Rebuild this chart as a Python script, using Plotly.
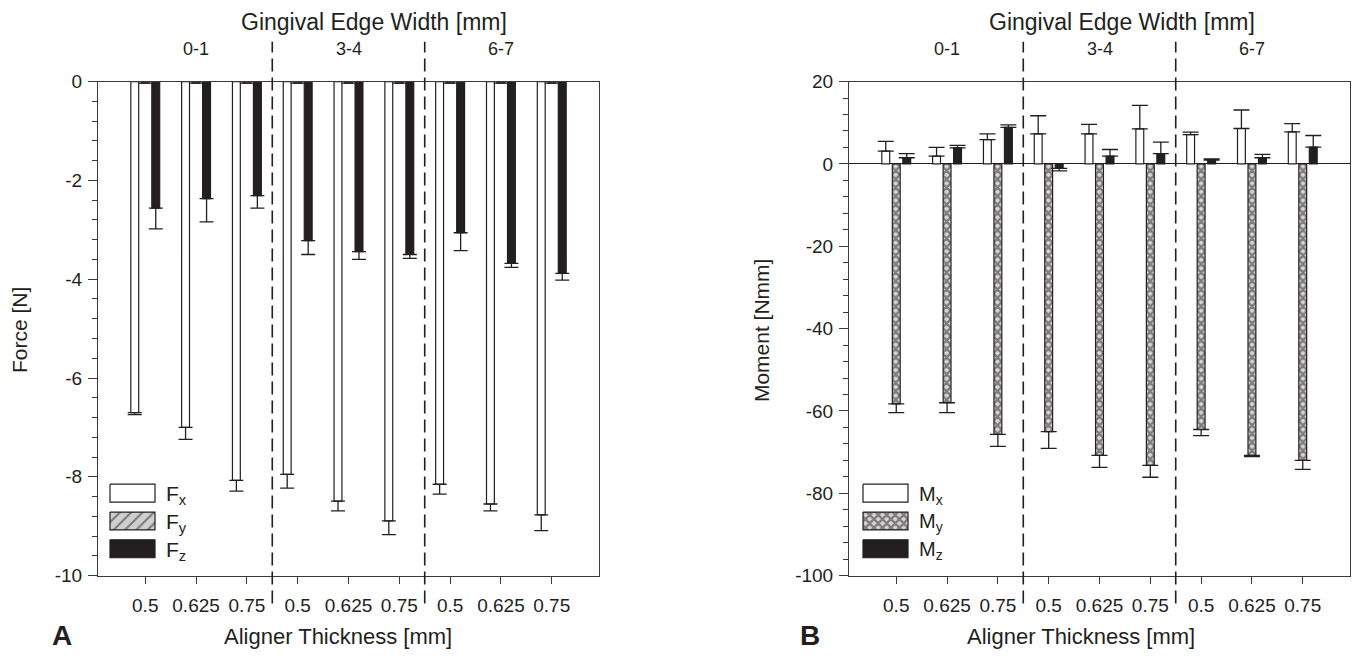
import plotly.graph_objects as go

# bar groups: aligner thickness [mm], three per gingival edge width [mm]
thickness = ["0.5", "0.625", "0.75", "0.5", "0.625", "0.75", "0.5", "0.625", "0.75"]
edge_width = ["0-1", "3-4", "6-7"]

# panel A - forces [N] (mean, sd)
fx = [-6.70, -7.00, -8.07, -7.95, -8.49, -8.89, -8.15, -8.55, -8.77]
fx_sd = [0.04, 0.24, 0.22, 0.28, 0.20, 0.28, 0.20, 0.14, 0.32]
fy = [-0.03, -0.03, -0.03, -0.03, -0.03, -0.03, -0.03, -0.03, -0.03]
fy_sd = [0, 0, 0, 0, 0, 0, 0, 0, 0]
fz = [-2.56, -2.37, -2.31, -3.22, -3.44, -3.50, -3.06, -3.68, -3.88]
fz_sd = [0.42, 0.47, 0.25, 0.28, 0.16, 0.08, 0.36, 0.08, 0.14]

# panel B - moments [Nmm] (mean, sd)
mx = [3.1, 1.9, 5.9, 7.3, 7.3, 8.5, 7.1, 8.6, 7.8]
mx_sd = [2.4, 2.1, 1.4, 4.4, 2.3, 5.7, 0.6, 4.5, 2.0]
my = [-58.3, -58.0, -65.7, -65.0, -70.8, -73.2, -64.5, -70.8, -72.0]
my_sd = [2.1, 2.4, 2.9, 4.1, 2.9, 2.9, 1.5, 0.3, 2.2]
mz = [1.5, 3.9, 8.9, -1.1, 1.9, 2.5, 0.9, 1.5, 4.1]
mz_sd = [1.0, 0.6, 0.6, 0.6, 1.6, 2.8, 0.3, 0.8, 2.8]

force_ticks = [-10, -8, -6, -4, -2, 0]
moment_ticks = [-100, -80, -60, -40, -20, 0, 20]

W, H = 1353, 662
INK = "#231f20"
AXC = "#3a3a3a"
FONT = "Liberation Sans, Arial, Helvetica, sans-serif"


def yc(y):
    # the page capture squeezes the figure a little vertically; undo that
    return (y - 8) / 0.974


def px(x):
    return x / W


def py(y):
    return 1 - yc(y) / H


def err(vals, sd, width):
    # one-sided error bars, pointing away from zero
    up = [s if v >= 0 else 0 for v, s in zip(vals, sd)]
    down = [s if v < 0 else 0 for v, s in zip(vals, sd)]
    return dict(type="data", symmetric=False, array=up, arrayminus=down,
                color=INK, thickness=1.3, width=width)


xpos = list(range(len(thickness)))

white = dict(color="white", line=dict(color=INK, width=1.2))
hatch = dict(color="#cfcfcf", line=dict(color=INK, width=1.2),
             pattern=dict(shape="/", fgcolor=INK, bgcolor="#cfcfcf", size=8, solidity=0.25))
cross = dict(color="#d8d8d8", line=dict(color=INK, width=1.2),
             pattern=dict(shape="x", fgcolor=INK, bgcolor="#d8d8d8", size=6, solidity=0.65))
black = dict(color=INK, line=dict(color=INK, width=1.2))

fig = go.Figure()

for vals, sd, mk in [(fx, fx_sd, white), (fy, fy_sd, hatch), (fz, fz_sd, black)]:
    fig.add_trace(go.Bar(x=xpos, y=vals, marker=mk, error_y=err(vals, sd, 7),
                         xaxis="x", yaxis="y", showlegend=False))

for vals, sd, mk in [(mx, mx_sd, white), (my, my_sd, cross), (mz, mz_sd, black)]:
    fig.add_trace(go.Bar(x=xpos, y=vals, marker=mk, error_y=err(vals, sd, 8),
                         xaxis="x2", yaxis="y2", showlegend=False))


# hand-drawn legends (wide boxes like the original), on a pixel overlay axis
def legend_box(x0, y0, mk):
    fp = None
    if "pattern" in mk:
        p = mk["pattern"]
        fp = dict(shape=p["shape"], fgcolor=p["fgcolor"], bgcolor=p["bgcolor"],
                  size=p["size"], solidity=p["solidity"])
    y1 = yc(y0)
    y2 = yc(y0 + 18)
    return go.Scatter(x=[x0, x0 + 45, x0 + 45, x0, x0], y=[y1, y1, y2, y2, y1],
                      mode="lines", fill="toself", fillcolor=mk["color"], fillpattern=fp,
                      line=dict(color=INK, width=1.2), xaxis="x3", yaxis="y3",
                      hoverinfo="skip", showlegend=False)


for i, mk in enumerate([white, hatch, black]):
    fig.add_trace(legend_box(110, 485 + i * 28, mk))
for i, mk in enumerate([white, cross, black]):
    fig.add_trace(legend_box(863, 485 + i * 28, mk))

xdomA = [px(98), px(599)]
xdomB = [px(849), px(1350)]
ydom = [py(577), py(80)]

xcommon = dict(range=[-0.93, 8.93], tickvals=xpos, ticktext=thickness, ticks="outside",
               ticklen=7, tickcolor=AXC, showline=True, linecolor=AXC, linewidth=1,
               mirror=True, showgrid=False, zeroline=False, ticklabelstandoff=6,
               tickfont=dict(size=19, color=INK, family=FONT))
ycommon = dict(ticks="outside", ticklen=9, tickcolor=AXC, showline=True, linecolor=AXC,
               linewidth=1, mirror=True, showgrid=False, ticklabelstandoff=2,
               tickfont=dict(size=19, color=INK, family=FONT))

fig.update_layout(
    width=W, height=H,
    autosize=False,
    margin=dict(l=0, r=0, t=0, b=0),
    paper_bgcolor="white",
    plot_bgcolor="rgba(0,0,0,0)",
    barmode="group",
    bargap=0.38,
    bargroupgap=0.25,
    font=dict(family=FONT, color=INK),
    xaxis=dict(domain=xdomA, anchor="y", **xcommon),
    yaxis=dict(domain=ydom, anchor="x", range=[-10, 0], tickvals=force_ticks,
               ticktext=[str(t) for t in force_ticks], zeroline=False,
               minor=dict(dtick=0.4, ticks="outside", ticklen=5, tickcolor=AXC),
               **ycommon),
    xaxis2=dict(domain=xdomB, anchor="y2", **xcommon),
    yaxis2=dict(domain=ydom, anchor="x2", range=[-100, 20], tickvals=moment_ticks,
                ticktext=[str(t) for t in moment_ticks], zeroline=True,
                zerolinecolor=INK, zerolinewidth=1,
                minor=dict(dtick=4, ticks="outside", ticklen=5, tickcolor=AXC),
                **ycommon),
    xaxis3=dict(domain=[0, 1], range=[0, W], visible=False, fixedrange=True),
    yaxis3=dict(domain=[0, 1], range=[H, 0], visible=False, fixedrange=True, anchor="x3"),
)

# dashed separators between gingival edge widths
for xr in ["x", "x2"]:
    for xs in [2.5, 5.5]:
        fig.add_shape(type="line", xref=xr, yref="paper", x0=xs, x1=xs,
                      y0=py(605), y1=py(40),
                      line=dict(color=INK, width=1.6, dash="13px,6px"))


def label(text, x, y, size, xref="paper", **kw):
    d = dict(text=text, x=x, y=py(y), xref=xref, yref="paper", showarrow=False,
             xanchor="center", yanchor="middle", font=dict(size=size))
    d.update(kw)
    return d


ann = []
for xr, tx in [("x", 374), ("x2", 1122)]:
    ann.append(label("Gingival Edge Width [mm]", px(tx), 20, 23))
    for gi, g in enumerate(edge_width):
        ann.append(label(g, gi * 3 + 1, 47, 18, xref=xr))

for tx in [338, 1081]:
    ann.append(label("Aligner Thickness [mm]", px(tx), 638, 22))

ann.append(label("Force [N]", px(19), 330, 21, textangle=-90))
ann.append(label("Moment [Nmm]", px(761), 330, 21, textangle=-90))
ann.append(label("<b>A</b>", px(62), 637, 28))
ann.append(label("<b>B</b>", px(810), 637, 28))

for i, s in enumerate(["x", "y", "z"]):
    ann.append(label(f"F<sub>{s}</sub>", px(164), 496 + i * 28, 21, xanchor="left"))
    ann.append(label(f"M<sub>{s}</sub>", px(917), 496 + i * 28, 20, xanchor="left"))

fig.update_layout(annotations=ann)

fig.write_html("out.html", config={"displayModeBar": False},
               post_script="document.body.style.margin='0';")
